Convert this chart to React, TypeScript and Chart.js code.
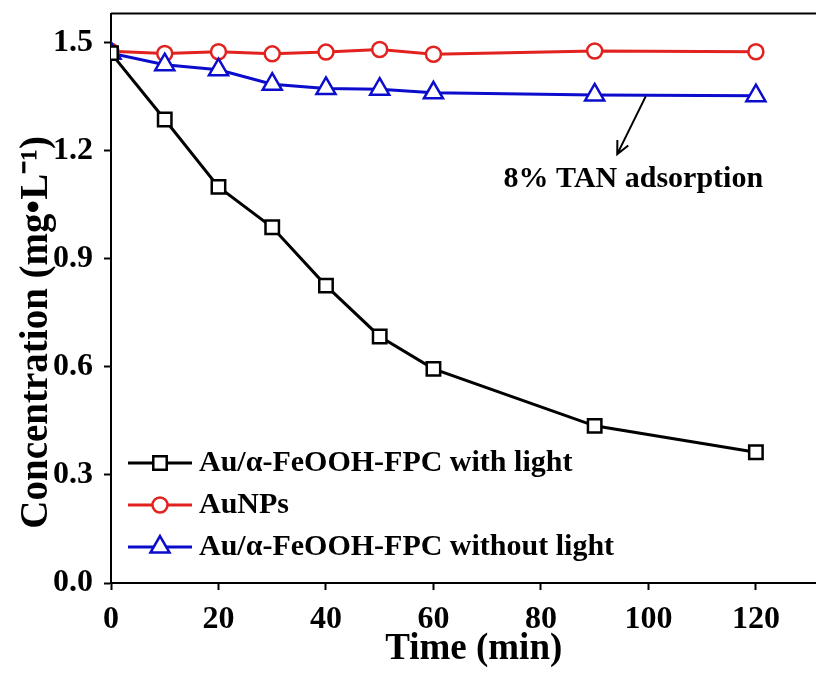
import React, { useEffect, useRef } from 'react';
import { Chart, registerables } from 'chart.js';
import { drawPoint } from 'chart.js/helpers';

Chart.register(...registerables);

// ---- data ----
const timeMin = [0, 10, 20, 30, 40, 50, 60, 90, 120];
const withLight = [1.47, 1.286, 1.099, 0.987, 0.825, 0.684, 0.594, 0.436, 0.363];
const auNPs = [1.475, 1.469, 1.474, 1.468, 1.473, 1.48, 1.467, 1.476, 1.474];
const withoutLight = [1.47, 1.438, 1.424, 1.384, 1.372, 1.37, 1.36, 1.354, 1.352];
const seriesLabels = [
  'Au/α-FeOOH-FPC with light',
  'AuNPs',
  'Au/α-FeOOH-FPC without light',
];
const xTickValues = [0, 20, 40, 60, 80, 100, 120];
const yTickValues = [0, 0.3, 0.6, 0.9, 1.2, 1.5];
const xTitle = 'Time (min)';
const yTitle = 'Concentration (mg•L⁻¹)';
const annotationText = '8% TAN adsorption';
const arrowFrom = [99.5, 1.35];
const arrowTo = [94.2, 1.19];
const annotationAt = [97.2, 1.1];

const FONT = "'Liberation Serif', 'Times New Roman', serif";
const BLACK = '#000000';
const RED = '#e2221e';
const BLUE = '#0c0ccc';

const toPoints = (ys: number[]) => timeMin.map((x, i) => ({ x, y: ys[i] }));

const framePlugin = {
  id: 'frame',
  afterDraw(chart: any) {
    const { ctx, chartArea } = chart;
    ctx.save();
    ctx.strokeStyle = '#000';
    ctx.lineWidth = 2;
    ctx.beginPath();
    ctx.moveTo(chartArea.left, chartArea.top);
    ctx.lineTo(chartArea.right, chartArea.top);
    ctx.lineTo(chartArea.right, chartArea.bottom);
    ctx.stroke();
    ctx.restore();
  },
};

const legendPlugin = {
  id: 'innerLegend',
  afterDraw(chart: any) {
    const { ctx, chartArea } = chart;
    const rowOffsets = [120, 78, 36];
    ctx.save();
    chart.data.datasets.forEach((ds: any, i: number) => {
      const y = chartArea.bottom - rowOffsets[i];
      const x0 = chartArea.left + 17;
      const x1 = chartArea.left + 81;
      const xm = chartArea.left + 49;
      ctx.strokeStyle = ds.borderColor;
      ctx.lineWidth = ds.borderWidth;
      ctx.beginPath();
      ctx.moveTo(x0, y);
      ctx.lineTo(x1, y);
      ctx.stroke();
      ctx.fillStyle = ds.pointBackgroundColor;
      ctx.strokeStyle = ds.pointBorderColor;
      ctx.lineWidth = ds.pointBorderWidth;
      drawPoint(ctx, { pointStyle: ds.pointStyle, radius: ds.pointRadius, rotation: 0, borderWidth: ds.pointBorderWidth }, xm, y);
      ctx.fillStyle = '#000';
      ctx.font = `bold 30px ${FONT}`;
      ctx.textAlign = 'left';
      ctx.textBaseline = 'middle';
      ctx.fillText(seriesLabels[i], chartArea.left + 88, y);
    });
    ctx.restore();
  },
};

const annotationPlugin = {
  id: 'arrowNote',
  afterDraw(chart: any) {
    const { ctx } = chart;
    const xs = chart.scales.x;
    const ys = chart.scales.y;
    const fx = xs.getPixelForValue(arrowFrom[0]);
    const fy = ys.getPixelForValue(arrowFrom[1]);
    const tx = xs.getPixelForValue(arrowTo[0]);
    const ty = ys.getPixelForValue(arrowTo[1]);
    ctx.save();
    ctx.strokeStyle = '#000';
    ctx.lineWidth = 2;
    ctx.beginPath();
    ctx.moveTo(fx, fy);
    ctx.lineTo(tx, ty);
    const ang = Math.atan2(ty - fy, tx - fx);
    const hl = 14;
    const spread = 0.45;
    ctx.moveTo(tx - hl * Math.cos(ang - spread), ty - hl * Math.sin(ang - spread));
    ctx.lineTo(tx, ty);
    ctx.lineTo(tx - hl * Math.cos(ang + spread), ty - hl * Math.sin(ang + spread));
    ctx.stroke();
    ctx.fillStyle = '#000';
    ctx.font = `bold 30px ${FONT}`;
    ctx.textAlign = 'center';
    ctx.textBaseline = 'alphabetic';
    ctx.fillText(annotationText, xs.getPixelForValue(annotationAt[0]), ys.getPixelForValue(annotationAt[1]));
    ctx.restore();
  },
};

export default function App() {
  const canvasRef = useRef<HTMLCanvasElement | null>(null);

  useEffect(() => {
    document.body.style.margin = '0';
    const canvas = canvasRef.current;
    if (!canvas) return;
    const mk = (label: string, ys: number[], color: string, style: string, radius: number, order: number) => ({
      label,
      data: toPoints(ys),
      borderColor: color,
      backgroundColor: color,
      borderWidth: 3,
      pointStyle: style,
      pointRadius: radius,
      pointHoverRadius: radius,
      pointBackgroundColor: '#ffffff',
      pointBorderColor: color,
      pointBorderWidth: 2.5,
      tension: 0,
      fill: false,
      order,
    });
    const axisFont = { family: FONT, size: 32, weight: 'bold' as const };
    const xTitleFont = { family: FONT, size: 37, weight: 'bold' as const };
    const yTitleFont = { family: FONT, size: 39, weight: 'bold' as const };
    const chart = new Chart(canvas, {
      type: 'line',
      data: {
        datasets: [
          mk(seriesLabels[0], withLight, BLACK, 'rect', 9.5, 0),
          mk(seriesLabels[1], auNPs, RED, 'circle', 7.5, 2),
          mk(seriesLabels[2], withoutLight, BLUE, 'triangle', 11, 1),
        ] as any,
      },
      options: {
        animation: false,
        responsive: false,
        maintainAspectRatio: false,
        events: [],
        layout: { padding: { top: 13, right: 2, left: 0, bottom: 0 } },
        plugins: {
          legend: { display: false },
          tooltip: { enabled: false },
        },
        scales: {
          x: {
            type: 'linear',
            min: 0,
            max: 135,
            afterBuildTicks: (s: any) => {
              s.ticks = xTickValues.map((v) => ({ value: v }));
            },
            afterFit: (s: any) => {
              s.height = 92;
              s.paddingLeft = 0;
              s.paddingRight = 0;
            },
            border: { display: true, color: '#000', width: 2 },
            grid: { drawOnChartArea: false, drawTicks: true, tickLength: 7, tickWidth: 2, tickColor: '#000' },
            ticks: {
              color: '#000',
              font: axisFont,
              padding: 11,
              maxRotation: 0,
              autoSkip: false,
              callback: (v: any) => String(v),
            },
            title: {
              display: true,
              text: xTitle,
              color: '#000',
              font: xTitleFont,
              padding: { top: 0, bottom: 3 },
            },
          },
          y: {
            type: 'linear',
            min: 0,
            max: 1.58,
            afterBuildTicks: (s: any) => {
              s.ticks = yTickValues.map((v) => ({ value: v }));
            },
            afterFit: (s: any) => {
              s.width = 111;
              s.paddingTop = 0;
              s.paddingBottom = 0;
            },
            border: { display: true, color: '#000', width: 2 },
            grid: { drawOnChartArea: false, drawTicks: true, tickLength: 7, tickWidth: 2, tickColor: '#000' },
            ticks: {
              color: '#000',
              font: axisFont,
              padding: 11,
              autoSkip: false,
              callback: (v: any) => Number(v).toFixed(1),
            },
            title: {
              display: true,
              text: yTitle + '       ',
              color: '#000',
              font: yTitleFont,
              padding: { top: 14, bottom: 0 },
            },
          },
        },
      },
      plugins: [framePlugin, annotationPlugin, legendPlugin],
    });
    return () => chart.destroy();
  }, []);

  return (
    <div style={{ width: 816, height: 675, overflow: 'hidden', position: 'relative', background: '#fff' }}>
      <canvas ref={canvasRef} width={850} height={675} style={{ display: 'block' }} />
    </div>
  );
}
